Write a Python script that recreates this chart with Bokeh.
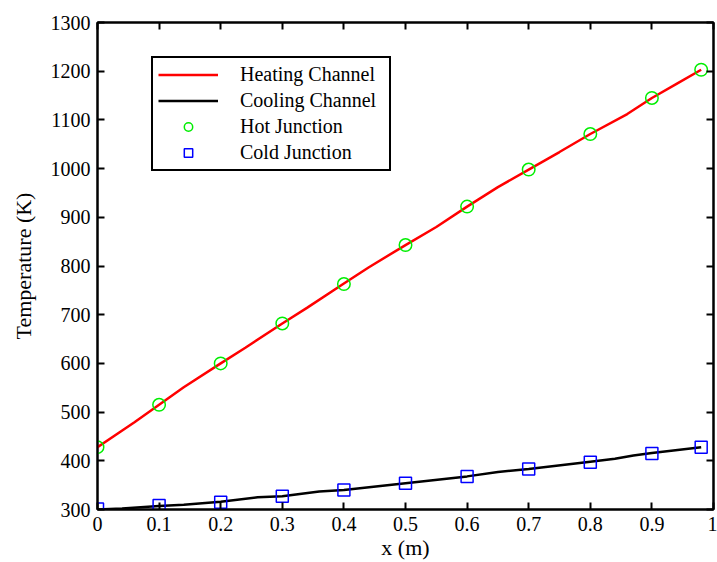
from bokeh.plotting import figure
from bokeh.models import LinearAxis, FixedTicker, Legend, LegendItem, Range1d
from bokeh.embed import file_html
from bokeh.resources import INLINE

# Heating channel temperature (K) along x (m)
heat_x = [0, 0.06, 0.1, 0.14, 0.2, 0.24, 0.3, 0.34, 0.4, 0.44, 0.5, 0.55, 0.6, 0.65,
          0.7, 0.75, 0.8, 0.86, 0.9, 0.94, 0.98]
heat_T = [428, 479, 515, 551, 600, 632, 682, 714, 764, 797, 843, 880, 922, 962,
          998, 1034, 1071, 1112, 1145, 1174, 1203]

# Cooling channel temperature (K)
cool_x = [0, 0.04, 0.1, 0.14, 0.2, 0.26, 0.3, 0.36, 0.4, 0.5, 0.6, 0.65, 0.7, 0.8,
          0.84, 0.87, 0.9, 0.98]
cool_T = [300, 302, 307, 310, 316, 325, 327, 337, 340, 354, 368, 377, 383, 398,
          404, 411, 416, 428]

# Junction temperatures (K)
junc_x = [0, 0.1, 0.2, 0.3, 0.4, 0.5, 0.6, 0.7, 0.8, 0.9, 0.98]
hot_T = [428, 515, 600, 682, 763, 843, 922, 998, 1071, 1145, 1203]
cold_T = [301, 308, 315, 327, 340, 354, 368, 383, 397, 415, 428]

x_ticks = [0, 0.1, 0.2, 0.3, 0.4, 0.5, 0.6, 0.7, 0.8, 0.9, 1]
x_tick_labels = ["0", "0.1", "0.2", "0.3", "0.4", "0.5", "0.6", "0.7", "0.8", "0.9", "1"]
y_ticks = [300, 400, 500, 600, 700, 800, 900, 1000, 1100, 1200, 1300]

FONT = "Liberation Serif"

p = figure(width=717, height=562, output_backend="svg", toolbar_location=None,
           x_range=Range1d(0, 1), y_range=Range1d(300, 1300),
           min_border_left=97, min_border_right=4, min_border_top=22,
           min_border_bottom=53, background_fill_color="white",
           border_fill_color="white")
p.xgrid.visible = False
p.ygrid.visible = False
p.outline_line_color = "black"
p.outline_line_width = 2

bottom = p.below[0]
left = p.left[0]

bottom.ticker = FixedTicker(ticks=x_ticks)
bottom.major_label_overrides = {t: l for t, l in zip(x_ticks, x_tick_labels)}
left.ticker = FixedTicker(ticks=y_ticks)
bottom.axis_label = "x (m)"
left.axis_label = "Temperature (K)"

for ax in (bottom, left):
    ax.major_label_text_font = FONT
    ax.major_label_text_font_size = "20px"
    ax.major_label_text_color = "black"
    ax.axis_label_text_font = FONT
    ax.axis_label_text_font_size = "22px"
    ax.axis_label_text_font_style = "normal"
    ax.axis_label_text_color = "black"
bottom.major_label_standoff = 7
bottom.axis_label_standoff = 1
left.major_label_standoff = 7
left.axis_label_standoff = 12

top = LinearAxis(ticker=FixedTicker(ticks=x_ticks))
right = LinearAxis(ticker=FixedTicker(ticks=y_ticks))
for ax in (top, right):
    ax.major_label_text_font_size = "0px"
    ax.major_label_text_color = None
    ax.major_label_standoff = 0
p.add_layout(top, "above")
p.add_layout(right, "right")

for ax in (bottom, left, top, right):
    ax.axis_line_color = "black"
    ax.axis_line_width = 2
    ax.major_tick_line_color = "black"
    ax.major_tick_line_width = 2
    ax.major_tick_in = 7
    ax.major_tick_out = 0
    ax.minor_tick_line_color = None

r_heat = p.line(heat_x, heat_T, line_color="red", line_width=2.5)
r_cool = p.line(cool_x, cool_T, line_color="black", line_width=2.5)
r_hot = p.scatter(junc_x, hot_T, marker="circle", size=12.5, fill_color=None,
                  line_color="#00ee00", line_width=1.5)
r_cold = p.scatter(junc_x, cold_T, marker="square", size=12, fill_color=None,
                   line_color="blue", line_width=1.5)

legend = Legend(items=[
    LegendItem(label="Heating Channel", renderers=[r_heat]),
    LegendItem(label="Cooling Channel", renderers=[r_cool]),
    LegendItem(label="Hot Junction", renderers=[r_hot]),
    LegendItem(label="Cold Junction", renderers=[r_cold]),
], location=(54, 338))
legend.label_text_font = FONT
legend.label_text_font_size = "20px"
legend.label_text_color = "black"
legend.label_standoff = 22
legend.label_width = 144
legend.glyph_width = 60
legend.glyph_height = 21
legend.label_height = 21
legend.spacing = 3
legend.padding = 5
legend.margin = 0
legend.border_line_color = "black"
legend.border_line_width = 2
legend.border_line_alpha = 1
legend.background_fill_color = "white"
legend.background_fill_alpha = 1
p.add_layout(legend)

open("out.html", "w").write(file_html(p, INLINE))
